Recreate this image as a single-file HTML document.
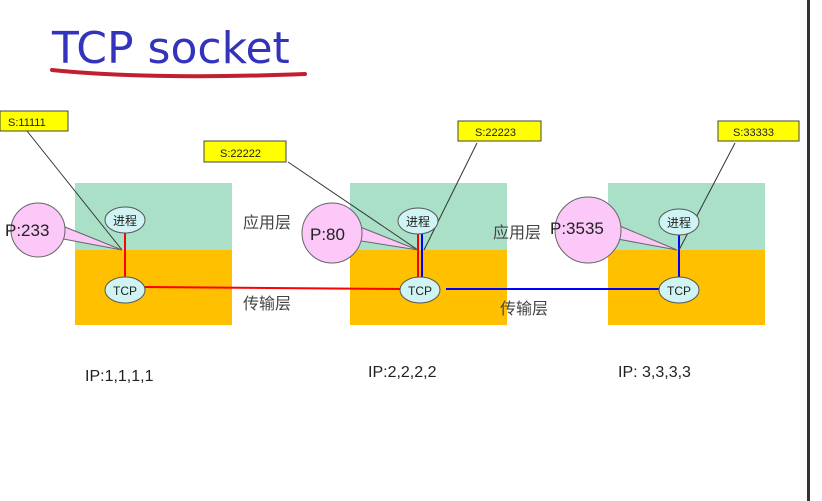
<!DOCTYPE html>
<html><head><meta charset="utf-8"><style>
html,body{margin:0;padding:0;background:#fff;width:822px;height:501px;overflow:hidden}
svg text{font-family:"Liberation Sans","Noto Sans CJK SC",sans-serif}
</style></head><body>
<svg width="822" height="501" viewBox="0 0 822 501" xmlns="http://www.w3.org/2000/svg">
<rect x="807" y="0" width="3" height="501" fill="#333"/>
<text x="52" y="63" font-size="44" fill="#3333bb" style="font-family:'DejaVu Sans','Liberation Sans',sans-serif">TCP socket</text>
<path d="M52 70 Q150 80 305 74" stroke="#c02030" stroke-width="4" fill="none" stroke-linecap="round"/>
<!-- boxes -->
<g>
<rect x="75" y="183" width="157" height="67" fill="#aae0c8"/><rect x="75" y="250" width="157" height="75" fill="#ffc000"/>
<rect x="350" y="183" width="157" height="67" fill="#aae0c8"/><rect x="350" y="250" width="157" height="75" fill="#ffc000"/>
<rect x="608" y="183" width="157" height="67" fill="#aae0c8"/><rect x="608" y="250" width="157" height="75" fill="#ffc000"/>
</g>
<!-- connection lines -->
<line x1="125" y1="233" x2="125" y2="277" stroke="red" stroke-width="2"/>
<line x1="418" y1="234" x2="418" y2="277" stroke="red" stroke-width="2"/>
<line x1="422" y1="234" x2="422" y2="277" stroke="blue" stroke-width="2"/>
<line x1="679" y1="235" x2="679" y2="277" stroke="blue" stroke-width="2"/>
<line x1="145" y1="287" x2="400" y2="289" stroke="red" stroke-width="2"/>
<line x1="446" y1="289" x2="660" y2="289" stroke="blue" stroke-width="2"/>
<!-- pointer lines -->
<g stroke="#333" stroke-width="1">
<line x1="27" y1="131" x2="122" y2="250"/>
<line x1="288" y1="162" x2="418" y2="250"/>
<line x1="477" y1="143" x2="424" y2="250"/>
<line x1="735" y1="143" x2="679" y2="250"/>
</g>
<!-- callouts -->
<g fill="#fbc8f8" stroke="#666" stroke-width="1">
<path d="M60 225 L122 250 L58 238 Z"/><circle cx="38" cy="230" r="27"/>
<path d="M355 225 L418 250 L355 240 Z"/><circle cx="332" cy="233" r="30"/>
<path d="M615 224 L677 250 L612 238 Z"/><circle cx="588" cy="230" r="33"/>
</g>
<g font-size="17" fill="#222">
<text x="5" y="236">P:233</text>
<text x="310" y="240">P:80</text>
<text x="550" y="234">P:3535</text>
</g>
<!-- ellipses -->
<g fill="#d0f4f4" stroke="#555" stroke-width="1">
<ellipse cx="125" cy="220" rx="20" ry="13"/><ellipse cx="125" cy="290" rx="20" ry="13"/>
<ellipse cx="418" cy="221" rx="20" ry="13"/><ellipse cx="420" cy="290" rx="20" ry="13"/>
<ellipse cx="679" cy="222" rx="20" ry="13"/><ellipse cx="679" cy="290" rx="20" ry="13"/>
</g>
<g font-size="12" fill="#222" text-anchor="middle">
<text x="125" y="225">进程</text><text x="125" y="295">TCP</text>
<text x="418" y="226">进程</text><text x="420" y="295">TCP</text>
<text x="679" y="227">进程</text><text x="679" y="295">TCP</text>
</g>
<!-- yellow labels -->
<g fill="#ffff00" stroke="#444" stroke-width="1">
<rect x="0" y="111" width="68" height="20"/><rect x="204" y="141" width="82" height="21"/>
<rect x="458" y="121" width="83" height="20"/><rect x="718" y="121" width="81" height="20"/>
</g>
<g font-size="11" fill="#222">
<text x="8" y="126">S:11111</text><text x="220" y="157">S:22222</text>
<text x="475" y="136">S:22223</text><text x="733" y="136">S:33333</text>
</g>
<g font-size="16" fill="#444">
<text x="243" y="228">应用层</text><text x="243" y="309">传输层</text>
<text x="493" y="238">应用层</text><text x="500" y="314">传输层</text>
</g>
<g font-size="16" fill="#222">
<text x="85" y="381">IP:1,1,1,1</text>
<text x="368" y="377">IP:2,2,2,2</text>
<text x="618" y="377">IP: 3,3,3,3</text>
</g>
</svg>
</body></html>
